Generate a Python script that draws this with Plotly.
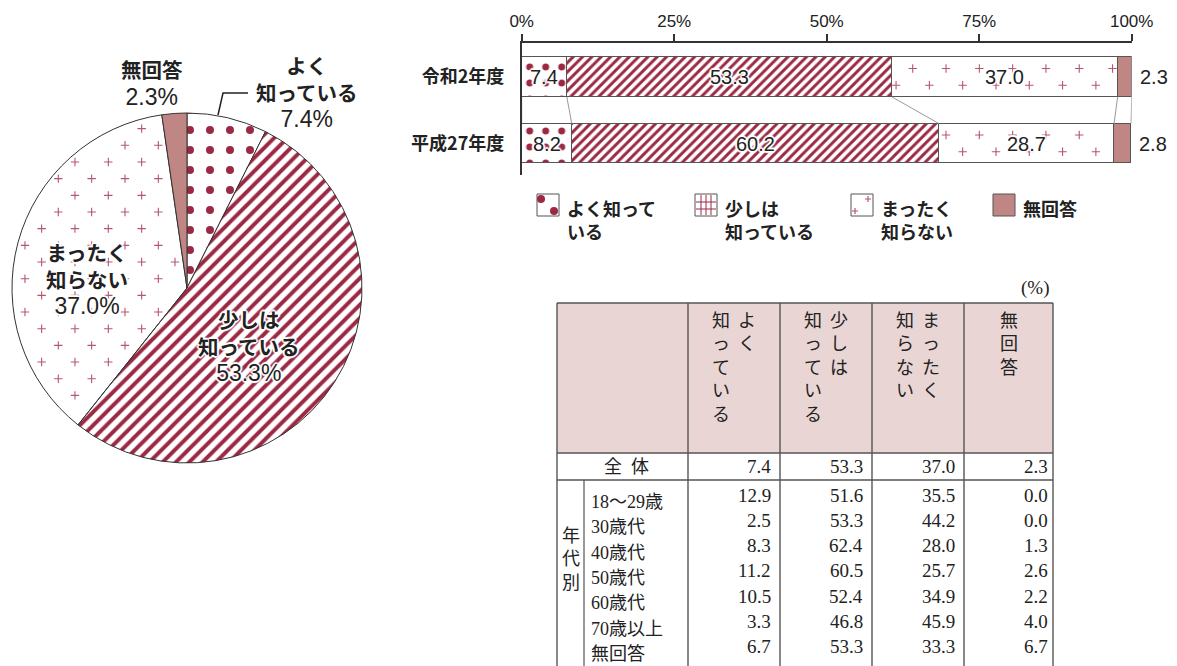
import math
import plotly.graph_objects as go

W, H = 1177, 666

# ---------------- data ----------------
answer_labels = ["よく知っている", "少しは知っている", "まったく知らない", "無回答"]
pie_values = [7.4, 53.3, 37.0, 2.3]
pie_label_lines = ["よく<br>知っている", "少しは<br>知っている", "まったく<br>知らない", "無回答"]

survey_years = ["令和2年度", "平成27年度"]
know_well = [7.4, 8.2]
know_little = [53.3, 60.2]
not_know = [37.0, 28.7]
no_answer = [2.3, 2.8]
axis_ticks = [0, 25, 50, 75, 100]

legend_text = ["よく知って<br>いる", "少しは<br>知っている", "まったく<br>知らない", "無回答"]

# table header is typeset vertically, columns read right to left
table_header_columns = [["よく", "知っている"], ["少しは", "知っている"], ["まったく", "知らない"], ["無回答"]]
table_total_label = "全\u2002体"
table_total = [7.4, 53.3, 37.0, 2.3]
age_group_title = "年代別"
age_groups = ["18〜29歳", "30歳代", "40歳代", "50歳代", "60歳代", "70歳以上", "無回答"]
age_table = [
    [12.9, 51.6, 35.5, 0.0],
    [2.5, 53.3, 44.2, 0.0],
    [8.3, 62.4, 28.0, 1.3],
    [11.2, 60.5, 25.7, 2.6],
    [10.5, 52.4, 34.9, 2.2],
    [3.3, 46.8, 45.9, 4.0],
    [6.7, 53.3, 33.3, 6.7],
]

# ---------------- styles ----------------
CRIMSON = "#9c2944"
PLUS = "#b5566f"
SOLID = "#c08684"
HEADER = "#e9d6d4"
LINE = "#555555"
TEXT = "#222222"
SANS = "Liberation Sans, Noto Sans CJK JP, sans-serif"
JP = "Noto Sans CJK JP, sans-serif"
SERIF = "Liberation Serif, Noto Sans CJK JP, serif"
HALO = ("1px 1px 1px #fff, -1px -1px 1px #fff, 1px -1px 1px #fff, -1px 1px 1px #fff, "
        "2px 0 1px #fff, -2px 0 1px #fff, 0 2px 1px #fff, 0 -2px 1px #fff")


def px(x):
    return x / W


def py(y):
    return 1 - y / H


def note(x, y, text, font, xanchor="center", yanchor="middle", **kw):
    """Paper-referenced text placed at pixel position (x, y)."""
    return dict(x=px(x), y=py(y), xref="paper", yref="paper", text=text, showarrow=False,
                xanchor=xanchor, yanchor=yanchor, font=font, **kw)


fig = go.Figure()

# ---------------- pie ----------------
PIE_L, PIE_R, PIE_T, PIE_B = 12, 362, 113, 463
R = (PIE_R - PIE_L) / 2
pie_domain = dict(x=[px(PIE_L), px(PIE_R)], y=[py(PIE_B), py(PIE_T)])

# plus-sign texture for the まったく知らない wedge (pixel units around the pie centre);
# drawn underneath the pie, whose wedge is left transparent
total = sum(pie_values)
a0 = 360 * sum(pie_values[:2]) / total
a1 = 360 * sum(pie_values[:3]) / total
step = 16.67
lx0, ly0 = -128.7, 76.0
pie_px, pie_py = [], []
for i in range(-20, 26):
    for j in range(-20, 26):
        if (i + j) % 2:
            continue
        x = lx0 + step * i
        y = ly0 + step * j
        r = math.hypot(x, y)
        if r > R - 6 or r < 8:
            continue
        ang = math.degrees(math.atan2(x, y)) % 360
        if not (a0 <= ang <= a1):
            continue
        d0 = ang - a0
        d1 = a1 - ang
        e0 = r * math.sin(math.radians(d0)) if d0 < 90 else r
        e1 = r * math.sin(math.radians(d1)) if d1 < 90 else r
        if min(e0, e1) < 5:
            continue
        pie_px.append(x)
        pie_py.append(y)

fig.add_trace(go.Scatter(
    x=pie_px, y=pie_py, mode="markers", xaxis="x2", yaxis="y2", hoverinfo="skip", showlegend=False,
    marker=dict(symbol="cross-thin", size=6, line=dict(color=PLUS, width=1.1)),
))

fig.add_trace(go.Pie(
    values=pie_values, labels=answer_labels, sort=False, direction="clockwise", rotation=0,
    textinfo="none", showlegend=False, hoverinfo="label+percent",
    domain=pie_domain,
    marker=dict(
        colors=["white", "white", "rgba(255,255,255,0)", SOLID],
        line=dict(color="#333333", width=1),
        pattern=dict(shape=[".", "/", "", ""], fgcolor=CRIMSON,
                     bgcolor=["white", "white", "rgba(255,255,255,0)", SOLID],
                     size=[20, 9.4, 8, 8], solidity=[0.125, 0.42, 0.3, 0.3],
                     fillmode="replace"),
    ),
))

# ---------------- stacked bars ----------------
y_pos = [0, 1]
bar_series = [know_well, know_little, not_know, no_answer]
bar_patterns = [
    dict(shape=".", fgcolor=CRIMSON, bgcolor="white", size=16, solidity=0.15, fillmode="replace"),
    dict(shape="/", fgcolor=CRIMSON, bgcolor="white", size=6.6, solidity=0.45, fillmode="replace"),
    dict(shape=""),
    dict(shape=""),
]
bar_colors = ["white", "white", "white", SOLID]
for name, vals, pat, col in zip(answer_labels, bar_series, bar_patterns, bar_colors):
    fig.add_trace(go.Bar(
        orientation="h", y=y_pos, x=vals, name=name, width=0.6, showlegend=False,
        marker=dict(color=col, line=dict(color=LINE, width=1), pattern=pat),
        hovertemplate="%{x}<extra>" + name + "</extra>",
    ))

# cumulative boundaries per year
cums = []
for k in range(len(y_pos)):
    c = [0.0]
    for s in bar_series:
        c.append(c[-1] + s[k])
    cums.append(c)

# connector lines between the two bars
for b in range(len(bar_series) + 1):
    fig.add_trace(go.Scatter(
        x=[cums[0][b], cums[1][b]], y=[y_pos[0] + 0.3, y_pos[1] - 0.3], mode="lines",
        line=dict(color="#999999", width=1), hoverinfo="skip", showlegend=False,
    ))

# plus-sign texture for the まったく知らない segments
bx_step = 5.46
bx_phase = 64.1
bar_pts_x, bar_pts_y = [], []
for k, yc in enumerate(y_pos):
    s0, s1 = cums[k][2], cums[k][3]
    for dy, off in [(-0.128, 0.0), (0.125, -bx_step / 2)]:
        for n in range(-20, 20):
            x = bx_phase + off + bx_step * n
            if s0 + 0.6 <= x <= s1 - 0.6:
                bar_pts_x.append(x)
                bar_pts_y.append(yc + dy)
fig.add_trace(go.Scatter(
    x=bar_pts_x, y=bar_pts_y, mode="markers", hoverinfo="skip", showlegend=False,
    marker=dict(symbol="cross-thin", size=6, line=dict(color=PLUS, width=1.1)),
))

annotations = []

# values on the bars
for k, yc in enumerate(y_pos):
    for s_i, s in enumerate(bar_series):
        v = s[k]
        if s_i < len(bar_series) - 1:
            annotations.append(dict(
                x=cums[k][s_i] + v / 2, y=yc, xref="x", yref="y", text=f"{v:.1f}",
                xanchor="center", yanchor="middle", showarrow=False,
                font=dict(family=SANS, size=20, color=TEXT, shadow=HALO),
            ))
        else:
            annotations.append(dict(
                x=cums[k][s_i + 1], y=yc, xref="x", yref="y", text=f"{v:.1f}",
                xanchor="left", yanchor="middle", xshift=6, showarrow=False,
                font=dict(family=SANS, size=20, color=TEXT),
            ))

# ---------------- pie labels ----------------
pie_label_pos = [(306, 93), (248, 347), (87, 280), (152, 84)]
for lines, v, (lx, ly) in zip(pie_label_lines, pie_values, pie_label_pos):
    jp = "<br>".join(f"<b>{t}</b>" for t in lines.split("<br>"))
    pct = f"<span style='font-size:23px'>{v:.1f}%</span>"
    annotations.append(note(lx, ly, f"{jp}<br>{pct}",
                            dict(family=SANS, size=20.5, color=TEXT, shadow=HALO), align="center"))

shapes = []
# leader line for the よく知っている label
shapes.append(dict(type="path", xref="paper", yref="paper",
                   path=f"M{px(218)},{py(115)} L{px(223)},{py(93)} L{px(248)},{py(93)}",
                   line=dict(color="#222222", width=1.5)))

# ---------------- legend ----------------
leg_x = [537, 695, 851, 993]
IT, IB, IS = 194, 216, 22
for i, (lx, txt) in enumerate(zip(leg_x, legend_text)):
    shapes.append(dict(type="rect", xref="paper", yref="paper",
                       x0=px(lx), x1=px(lx + IS), y0=py(IB), y1=py(IT),
                       fillcolor=SOLID if i == 3 else "white", line=dict(color=LINE, width=1)))
    if i == 0:
        for cx, cy in [(lx + 4, IT + 5), (lx + 17, IB - 5)]:
            shapes.append(dict(type="circle", xref="paper", yref="paper",
                               x0=px(cx - 4), x1=px(cx + 4), y0=py(cy + 4), y1=py(cy - 4),
                               fillcolor=CRIMSON, line=dict(width=0)))
    elif i == 1:
        for gx in (6, 11, 16):
            shapes.append(dict(type="line", xref="paper", yref="paper",
                               x0=px(lx + gx), x1=px(lx + gx), y0=py(IT + 1), y1=py(IB - 1),
                               line=dict(color=CRIMSON, width=1)))
        for gy in (8, 15):
            shapes.append(dict(type="line", xref="paper", yref="paper",
                               x0=px(lx + 1), x1=px(lx + IS - 1), y0=py(IT + gy), y1=py(IT + gy),
                               line=dict(color=CRIMSON, width=1)))
    elif i == 2:
        for cx, cy in [(lx + 17, IT + 5), (lx + 4, IB - 5)]:
            shapes.append(dict(type="path", xref="paper", yref="paper",
                               path=(f"M{px(cx - 3)},{py(cy)} L{px(cx + 3)},{py(cy)} "
                                     f"M{px(cx)},{py(cy - 3)} L{px(cx)},{py(cy + 3)}"),
                               line=dict(color=PLUS, width=1.2)))
    annotations.append(note(lx + 28, 193, f"<b>{txt}</b>",
                            dict(family=JP, size=18, color=TEXT),
                            xanchor="left", yanchor="top", align="left"))

# ---------------- table ----------------
T_TOP, T_HEAD, T_TOTAL, T_BOT = 303, 453, 480, 666
col_x = [557, 688, 780, 872, 964, 1053]
sub_x = 584
value_right = [773, 865, 957, 1050]
TFONT = dict(family=SERIF, size=19, color=TEXT)

shapes.append(dict(type="rect", xref="paper", yref="paper", layer="below",
                   x0=px(col_x[0]), x1=px(col_x[-1]), y0=py(T_HEAD), y1=py(T_TOP),
                   fillcolor=HEADER, line=dict(width=0)))
for cx in col_x:
    shapes.append(dict(type="line", xref="paper", yref="paper",
                       x0=px(cx), x1=px(cx), y0=py(T_TOP), y1=py(T_BOT),
                       line=dict(color=LINE, width=1.4)))
for ly in (T_TOP, T_HEAD, T_TOTAL):
    shapes.append(dict(type="line", xref="paper", yref="paper",
                       x0=px(col_x[0]), x1=px(col_x[-1]), y0=py(ly), y1=py(ly),
                       line=dict(color=LINE, width=1.4)))
shapes.append(dict(type="line", xref="paper", yref="paper",
                   x0=px(sub_x), x1=px(sub_x), y0=py(T_TOTAL), y1=py(T_BOT),
                   line=dict(color=LINE, width=1.2)))

annotations.append(note(1051, 288, "(%)", TFONT, xanchor="right"))

# vertical header text
HFONT = dict(family=SERIF, size=18, color=TEXT)
for c, segs in enumerate(table_header_columns):
    center = (col_x[c + 1] + col_x[c + 2]) / 2
    offsets = [0] if len(segs) == 1 else [13, -13]
    for seg, off in zip(segs, offsets):
        annotations.append(note(center + off, 309, "<br>".join(seg), HFONT, yanchor="top"))

# total row
annotations.append(note(626, 467, table_total_label, HFONT))
for c, v in enumerate(table_total):
    annotations.append(note(value_right[c], 466, f"{v:.1f}", TFONT, xanchor="right"))

# age group rows
annotations.append(note(571, 559, "<br>".join(age_group_title), HFONT))
ROW0, PITCH = 495, 25.3
for r, (lab, row) in enumerate(zip(age_groups, age_table)):
    annotations.append(note(589, ROW0 + 7 + PITCH * r, lab, HFONT, xanchor="left"))
    for c, v in enumerate(row):
        annotations.append(note(value_right[c], ROW0 + PITCH * r, f"{v:.1f}", TFONT, xanchor="right"))

# ---------------- layout ----------------
BAR_TOP, BAR_BOT = 43, 175
c0, c1 = 77, 143.5
unit = (c1 - c0) / (y_pos[1] - y_pos[0])
y_top_val = (BAR_TOP - c0) / unit
y_bot_val = (BAR_BOT - c0) / unit

fig.update_layout(
    width=W, height=H, margin=dict(l=0, r=0, t=0, b=0, autoexpand=False),
    paper_bgcolor="white", plot_bgcolor="rgba(0,0,0,0)",
    barmode="stack", bargap=0, showlegend=False,
    xaxis=dict(domain=[px(521.7), px(1131.7)], range=[0, 100], side="top", anchor="y",
               tickvals=axis_ticks, ticktext=[f"{t}%" for t in axis_ticks],
               ticks="outside", ticklen=7, tickwidth=1.5, tickcolor="#333333",
               showline=True, linecolor="#333333", linewidth=1.5,
               showgrid=False, zeroline=False, fixedrange=True,
               tickfont=dict(family=SANS, size=17, color=TEXT)),
    yaxis=dict(domain=[py(BAR_BOT), py(BAR_TOP)], range=[y_bot_val, y_top_val], anchor="x",
               tickvals=y_pos, ticktext=[f"<b>{s}</b>" for s in survey_years], ticks="",
               ticklabelstandoff=12, showline=True, linecolor="#333333", linewidth=1.5,
               showgrid=False, zeroline=False, fixedrange=True,
               tickfont=dict(family=JP, size=18, color=TEXT)),
    xaxis2=dict(domain=pie_domain["x"], range=[-R, R], anchor="y2", visible=False, fixedrange=True),
    yaxis2=dict(domain=pie_domain["y"], range=[-R, R], anchor="x2", visible=False, fixedrange=True),
    shapes=shapes,
    annotations=annotations,
)

fig.write_html("out.html")
